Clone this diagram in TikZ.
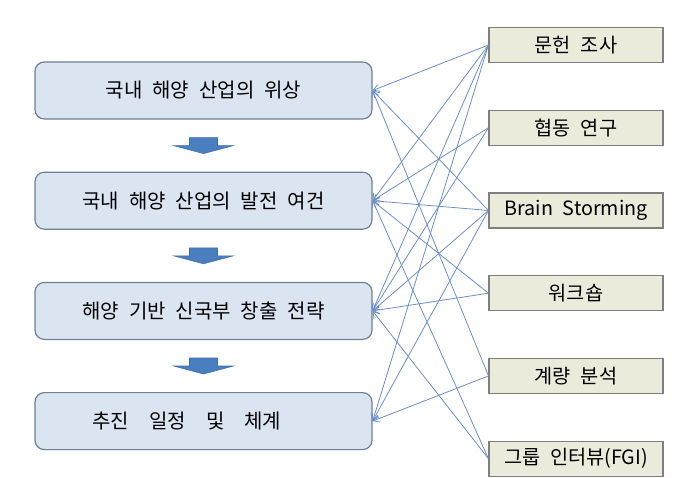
\documentclass[tikz,border=0pt]{standalone}
\usepackage{fontspec}
\setmainfont[WordSpace=2.2]{Noto Sans CJK KR}
\usetikzlibrary{arrows.meta,positioning,calc}
\definecolor{stagefill}{HTML}{DBE5F1}
\definecolor{stageline}{HTML}{6F7F94}
\definecolor{methodfill}{HTML}{EBEBDC}
\definecolor{methodline}{HTML}{7F7F7F}
\definecolor{linkblue}{HTML}{6E8FC7}
\definecolor{flowblue}{HTML}{4A7EBF}
\definecolor{flowedge}{HTML}{3D6CA8}
\tikzset{
	%Define standard arrow tip
	>={Straight Barb[length=4.5pt,width=5.5pt]},
	%Define style for the stage boxes
	stage/.style={
		rectangle,
		rounded corners=7pt,
		draw=stageline, fill=stagefill, line width=0.9pt,
		minimum width=252.75pt,
		minimum height=42.75pt,
		font=\fontsize{15}{17}\selectfont},
	%Define style for the method boxes
	method/.style={
		rectangle,
		draw=methodline, fill=methodfill, line width=0.8pt,
		minimum width=130.5pt,
		minimum height=26.25pt,
		font=\fontsize{14.8}{17}\selectfont},
	% Define link style
	link/.style={
		->,
		draw=linkblue,
		line width=0.6pt},
	% Define block arrow style
	flow/.style={
		fill=flowblue,
		draw=flowedge,
		line width=0.4pt}
}
\begin{document}
\begin{tikzpicture}[x=0.75pt,y=-0.75pt]
		\useasboundingbox (0,0) rectangle (693,478);
		%stages
		\node[stage] (status) at (203.5,90.5) {국내 해양 산업의 위상};
		\node[stage, below=39pt of status] (cond) {국내 해양 산업의 발전 여건};
		\node[stage, below=39pt of cond] (strat) {해양 기반 신국부 창출 전략};
		% wider gaps, set a little left of the middle
		\node[stage, below=39pt of strat] (plan)
			{\hspace*{-25pt}추진\quad 일정\quad 및\quad 체계};
		%methods
		\node[method] (lit) at (576,45) {문헌 조사};
		\node[method, below=35pt of lit] (coop) {협동 연구};
		\node[method, below=35pt of coop] (brain) {Brain Storming};
		\node[method, below=35pt of brain] (shop) {워크숍};
		\node[method, below=35pt of shop] (quant) {계량 분석};
		\node[method, below=35pt of quant] (fgi) {그룹 인터뷰(FGI)};
		% block arrows between the stages
		\foreach \a/\b in {status/cond, cond/strat, strat/plan}
			\filldraw[flow, shift={($(\a.south)!.5!(\b.north)$)}]
				(-10.5pt,6pt) -- (10.5pt,6pt) -- (10.5pt,0pt) -- (22.5pt,0pt)
				-- (0pt,-6pt) -- (-22.5pt,0pt) -- (-10.5pt,0pt) -- cycle;
		% links from the methods to the stages
		\foreach \s/\t in {lit/status, lit/cond, lit/strat, lit/plan,
				coop/cond, coop/strat,
				brain/status, brain/cond, brain/strat, brain/plan,
				shop/cond, shop/strat,
				quant/status, quant/plan,
				fgi/cond, fgi/strat}
			\draw[link] (\s.west) -- (\t.east);
\end{tikzpicture}
\end{document}
